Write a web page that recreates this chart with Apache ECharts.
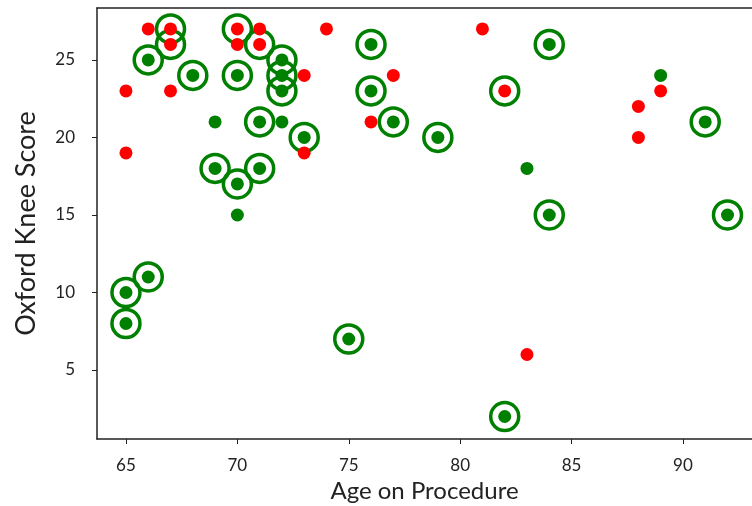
<!DOCTYPE html>
<html>
<head>
<meta charset="utf-8">
<script src="https://cdn.jsdelivr.net/npm/echarts@6/dist/echarts.min.js"></script>
<style>
  html, body { margin: 0; padding: 0; background: #fff; }
  #chart { width: 752px; height: 506px; }
</style>
</head>
<body>
<div id="chart"></div>
<script>
// [age, score]
var greenDots = [
  [66, 25], [68, 24], [70, 24], [72, 25], [72, 24], [72, 23], [69, 21], [71, 21],
  [72, 21], [73, 20], [69, 18], [70, 17], [71, 18], [70, 15], [76, 26], [76, 23],
  [77, 21], [79, 20], [83, 18], [84, 26], [89, 24], [91, 21], [84, 15], [92, 15],
  [65, 10], [65, 8], [66, 11], [75, 7], [82, 2]
];
var rings = [
  [67, 27], [67, 26], [66, 25], [70, 27], [71, 26], [68, 24], [70, 24], [72, 25],
  [72, 24], [72, 23], [71, 21], [73, 20], [69, 18], [70, 17], [71, 18], [76, 26],
  [76, 23], [77, 21], [79, 20], [82, 23], [84, 26], [91, 21], [84, 15], [92, 15],
  [65, 10], [65, 8], [66, 11], [75, 7], [82, 2]
];
var redDots = [
  [66, 27], [67, 27], [67, 26], [65, 23], [67, 23], [65, 19], [70, 27], [71, 27],
  [70, 26], [71, 26], [73, 24], [73, 19], [74, 27], [81, 27], [77, 24], [82, 23],
  [76, 21], [83, 6], [89, 23], [88, 22], [88, 20]
];
var xTicks = [65, 70, 75, 80, 85, 90];
var yTicks = [5, 10, 15, 20, 25];

var GREEN = '#008000';
var RED = '#ff0000';
var fontFam = 'Lato, "Open Sans", sans-serif';

var chart = echarts.init(document.getElementById('chart'));
var axisLine = { show: true, lineStyle: { color: '#222', width: 1.5 } };

var option = {
  animation: false,
  backgroundColor: '#fff',
  grid: { left: 97, top: 8, right: 0, bottom: 67, outerBoundsMode: 'none' },
  xAxis: [{
    type: 'value',
    min: 63.7,
    max: 93.1,
    name: 'Age on Procedure',
    nameLocation: 'middle',
    nameGap: 38,
    nameTextStyle: { fontFamily: fontFam, fontSize: 24, color: '#222' },
    axisLine: axisLine,
    axisTick: { show: true, length: 5, customValues: xTicks, lineStyle: { color: '#222' } },
    axisLabel: { customValues: xTicks, margin: 18, fontFamily: fontFam, fontSize: 17, color: '#222' },
    splitLine: { show: false }
  }, {
    type: 'value',
    position: 'top',
    min: 63.7,
    max: 93.1,
    axisLine: axisLine,
    axisTick: { show: false },
    axisLabel: { show: false },
    splitLine: { show: false }
  }],
  yAxis: {
    type: 'value',
    min: 0.55,
    max: 28.35,
    name: 'Oxford Knee Score',
    nameLocation: 'middle',
    nameGap: 57,
    nameTextStyle: { fontFamily: fontFam, fontSize: 27, color: '#222' },
    axisLine: axisLine,
    axisTick: { show: true, length: 5, customValues: yTicks, lineStyle: { color: '#222' } },
    axisLabel: { customValues: yTicks, margin: 22, fontFamily: fontFam, fontSize: 17, color: '#222' },
    splitLine: { show: false }
  },
  series: [
    {
      type: 'scatter',
      data: rings,
      symbolSize: 28,
      itemStyle: { color: 'transparent', borderColor: GREEN, borderWidth: 3.5, opacity: 1 },
      emphasis: { disabled: true },
      silent: true
    },
    {
      type: 'scatter',
      data: greenDots,
      symbolSize: 13,
      itemStyle: { color: GREEN, opacity: 1 },
      emphasis: { disabled: true },
      silent: true
    },
    {
      type: 'scatter',
      data: redDots,
      symbolSize: 13,
      itemStyle: { color: RED, opacity: 1 },
      emphasis: { disabled: true },
      silent: true
    }
  ]
};
chart.setOption(option);
</script>
</body>
</html>
